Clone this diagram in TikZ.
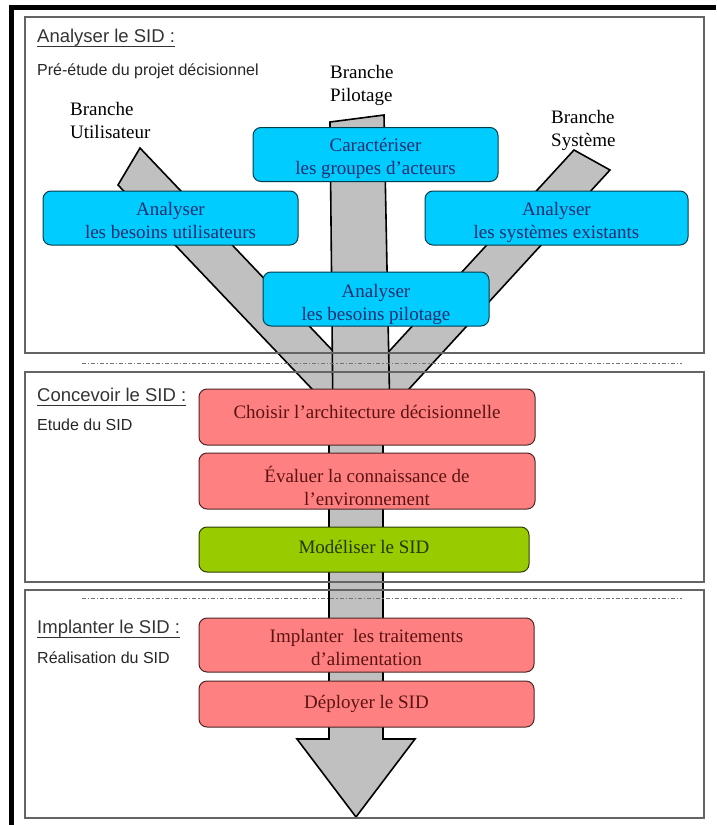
\documentclass[tikz,border=0pt]{standalone}
\usepackage{fontspec}
\setmainfont{Liberation Serif}
\newfontfamily\arialfont{Liberation Sans}

\definecolor{cyanbox}{RGB}{0,204,255}
\definecolor{redbox}{RGB}{255,128,128}
\definecolor{greenbox}{RGB}{153,204,0}
\definecolor{stripgray}{RGB}{192,192,192}
\definecolor{framegray}{RGB}{100,100,100}
\definecolor{navytext}{RGB}{30,45,110}
\definecolor{maroontext}{RGB}{90,20,20}
\definecolor{olivetext}{RGB}{35,55,0}

\tikzset{
  phase/.style={draw=framegray, line width=1.3pt},
  sepline/.style={draw=black!55, line width=1pt, dash pattern=on 4pt off 2pt on 1.2pt off 2pt},
  branch/.style={draw=black, line width=1.6pt, fill=stripgray},
  phasetitle/.style={anchor=base west, inner sep=0pt, text=black!80,
    font=\arialfont\fontsize{18.5}{22}\selectfont},
  phasenote/.style={anchor=base west, inner sep=0pt, text=black!85,
    font=\arialfont\fontsize{16}{19}\selectfont},
  branchlabel/.style={anchor=north west, inner sep=0pt, align=left,
    font=\fontsize{19}{23}\selectfont},
  task/.style={rounded corners=8pt, line width=1pt, inner sep=0pt, align=center,
    font=\fontsize{19}{23}\selectfont},
  blue task/.style={task, draw=black!70!cyanbox, fill=cyanbox, text=navytext},
  red task/.style={task, draw=black!70!redbox, fill=redbox, text=maroontext},
  green task/.style={task, draw=black!70!greenbox, fill=greenbox, text=olivetext},
  lines/.style 2 args={text height=#1, text depth=#2}
}

\begin{document}
\begin{tikzpicture}[x=1pt, y=-1pt]
  \useasboundingbox (0,0) rectangle (716,825);
  \draw[line width=4.5pt] (11.5,825) -- (11.5,7.5) -- (716,7.5);

  \draw[branch] (140,148) -- (118,185) -- (341.5,420) -- (398.6,420) -- cycle;
  \draw[branch] (574,150) -- (610,170) -- (380.6,420) -- (326,420) -- cycle;
  \draw[branch] (330,122) -- (384,115) -- (390,420) -- (333,420) -- cycle;
  \draw[branch] (329,430) -- (329,739) -- (297,739) -- (356,817) -- (415,739)
    -- (383,739) -- (383,430) -- cycle;

  \draw[phase] (25,17) rectangle (704,353);
  \draw[phase] (25,372) rectangle (704,582);
  \draw[phase] (25,590) rectangle (704,818);
  \draw[sepline] (82,363) -- (682,363);
  \draw[sepline] (82,598) -- (682,598);

  \node[phasetitle] (T1) at (37,42) {Analyser le SID :};
  \draw[black!80] ([yshift=-4pt]T1.base west) -- ([yshift=-4pt]T1.base east);
  \node[phasenote] (N1) at (37,75) {Pré-étude du projet décisionnel};
  \node[phasetitle] (T2) at (37,401) {Concevoir le SID :};
  \draw[black!80] ([yshift=-4pt]T2.base west) -- ([yshift=-4pt]T2.base east);
  \node[phasenote] (N2) at (37,430) {Etude du SID};
  \node[phasetitle] (T3) at (37,633) {Implanter le SID :};
  \draw[black!80] ([yshift=-4pt]T3.base west) -- ([yshift=-4pt]T3.base east);
  \node[phasenote] (N3) at (37,663) {Réalisation du SID};

  \node[branchlabel] (BU) at (70,102) {Branche\\Utilisateur};
  \node[branchlabel] (BP) at (330,65) {Branche\\Pilotage};
  \node[branchlabel] (BS) at (551,110) {Branche\\Système};

  \node[blue task, lines={44pt}{4pt}, minimum width=245pt, minimum height=54pt]
    (Car) at (375.5,154.5) {Caractériser\\les groupes d’acteurs};
  \node[blue task, lines={44pt}{4pt}, minimum width=255pt, minimum height=54pt]
    (Uti) at (170.5,218) {Analyser\\les besoins utilisateurs};
  \node[blue task, lines={44pt}{4pt}, minimum width=263pt, minimum height=54pt]
    (Sys) at (556.5,218) {Analyser\\les systèmes existants};
  \node[blue task, lines={46pt}{4pt}, minimum width=226pt, minimum height=54pt]
    (Pil) at (376,299) {Analyser\\les besoins pilotage};

  \node[red task, lines={14pt}{12pt}, minimum width=336pt, minimum height=56pt]
    (Cho) at (367,417) {Choisir l’architecture décisionnelle};
  \node[red task, lines={52pt}{4pt}, minimum width=336pt, minimum height=54pt]
    (Eva) at (367,481) {Évaluer la connaissance de\\l’environnement};
  \node[green task, lines={13pt}{6pt}, minimum width=330pt, minimum height=45pt]
    (Mod) at (364,549.5) {Modéliser le SID};
  \node[red task, lines={44pt}{4pt}, minimum width=335pt, minimum height=54pt]
    (Imp) at (366.5,645) {Implanter\ \ les traitements\\d’alimentation};
  \node[red task, lines={13pt}{4pt}, minimum width=335pt, minimum height=46pt]
    (Dep) at (366.5,704) {Déployer le SID};
\end{tikzpicture}
\end{document}
